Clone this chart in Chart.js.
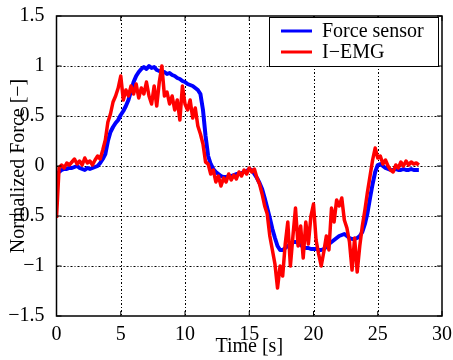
<!DOCTYPE html>
<html>
<head>
<meta charset="utf-8">
<script src="https://cdn.jsdelivr.net/npm/chart.js@4/dist/chart.umd.min.js"></script>
<style>
  html, body { margin: 0; padding: 0; background: #fff; }
  #wrap { width: 453px; height: 360px; }
</style>
</head>
<body>
<div id="wrap"><canvas id="chart" width="453" height="360"></canvas></div>
<script>
// samples every 0.2 s
const forceSensor = [
  -0.08,-0.06,-0.04,-0.03,-0.03,-0.02,-0.02,-0.01,0.00,-0.02,
  -0.03,-0.04,-0.02,-0.03,-0.02,-0.01,0.00,0.03,0.07,0.12,
  0.25,0.34,0.39,0.43,0.46,0.51,0.55,0.60,0.66,0.75,
  0.84,0.90,0.94,0.97,0.99,0.97,1.00,0.98,0.99,0.96,
  0.95,0.93,0.94,0.92,0.93,0.91,0.90,0.88,0.87,0.85,
  0.84,0.82,0.81,0.80,0.78,0.76,0.72,0.56,0.30,0.10,
  0.02,-0.03,-0.06,-0.08,-0.10,-0.11,-0.11,-0.10,-0.10,-0.09,
  -0.08,-0.08,-0.07,-0.06,-0.05,-0.03,-0.04,-0.08,-0.12,-0.17,
  -0.23,-0.32,-0.42,-0.52,-0.63,-0.72,-0.80,-0.84,-0.84,-0.82,
  -0.80,-0.78,-0.76,-0.76,-0.77,-0.79,-0.81,-0.82,-0.82,-0.83,
  -0.83,-0.83,-0.84,-0.84,-0.83,-0.81,-0.78,-0.76,-0.74,-0.72,
  -0.70,-0.69,-0.68,-0.70,-0.72,-0.73,-0.73,-0.72,-0.70,-0.66,
  -0.58,-0.47,-0.32,-0.18,-0.06,0.01,0.02,0.00,-0.02,-0.03,
  -0.04,-0.04,-0.03,-0.04,-0.04,-0.03,-0.04,-0.04,-0.03,-0.04,
  -0.04,-0.04
];
const iEmg = [
  -0.52,-0.02,0.01,-0.02,0.03,0.01,0.04,0.07,0.02,0.05,
  0.01,0.08,0.03,0.05,0.01,0.06,0.10,0.07,0.16,0.26,
  0.44,0.52,0.64,0.70,0.78,0.90,0.66,0.76,0.70,0.80,
  0.72,0.82,0.68,0.78,0.72,0.84,0.70,0.62,0.80,0.60,
  0.84,1.00,0.70,0.74,0.62,0.70,0.56,0.66,0.46,0.80,
  0.62,0.56,0.66,0.48,0.58,0.40,0.32,0.22,0.04,0.02,
  -0.08,-0.04,-0.16,-0.10,-0.20,-0.12,-0.16,-0.08,-0.14,-0.09,
  -0.13,-0.06,-0.10,-0.04,-0.08,-0.02,-0.06,-0.03,-0.12,-0.18,
  -0.28,-0.40,-0.48,-0.70,-0.84,-0.98,-1.22,-1.00,-1.10,-0.78,
  -0.56,-1.00,-0.70,-0.42,-0.80,-0.60,-0.92,-0.56,-0.78,-0.50,
  -0.38,-0.74,-0.88,-1.00,-0.86,-0.70,-0.84,-0.42,-0.56,-0.34,
  -0.40,-0.32,-0.54,-0.62,-0.76,-1.04,-0.72,-1.06,-0.80,-0.60,
  -0.44,-0.26,-0.10,0.06,0.18,0.08,0.10,0.02,0.06,0.00,
  -0.04,-0.06,0.01,-0.02,0.04,0.00,0.05,0.01,0.04,0.02,
  0.03,0.01
];
const time = forceSensor.map((_, i) => +(i * 0.2).toFixed(1));
const xTicks = [0, 5, 10, 15, 20, 25, 30];
const yTicks = [-1.5, -1, -0.5, 0, 0.5, 1, 1.5];
const seriesNames = ['Force sensor', 'I\u2212EMG'];
const seriesColors = ['rgb(0,0,255)', 'rgb(255,0,0)'];

const serif = '"Liberation Serif", "DejaVu Serif", serif';
const fmt = v => String(v).replace('-', '\u2212');

const frame = {
    id: 'frame',
    beforeDatasetsDraw(chart) {
        const { ctx, chartArea: a, scales: { x, y } } = chart;
        ctx.save();
        ctx.strokeStyle = '#000';
        ctx.lineWidth = 1;
        ctx.setLineDash([2, 2, 1, 2]);
        xTicks.slice(1, -1).forEach(v => {
            const p = Math.round(x.getPixelForValue(v)) + 0.5;
            ctx.beginPath(); ctx.moveTo(p, a.top); ctx.lineTo(p, a.bottom); ctx.stroke();
        });
        yTicks.slice(1, -1).forEach(v => {
            const p = Math.round(y.getPixelForValue(v)) + 0.5;
            ctx.beginPath(); ctx.moveTo(a.left, p); ctx.lineTo(a.right, p); ctx.stroke();
        });
        ctx.restore();
    },
    afterDatasetsDraw(chart) {
        const { ctx, chartArea: a, scales: { x, y } } = chart;
        ctx.save();
        ctx.setLineDash([]);
        ctx.strokeStyle = '#000';
        ctx.lineWidth = 1.5;
        ctx.strokeRect(a.left, a.top, a.right - a.left, a.bottom - a.top);
        // inward ticks
        ctx.lineWidth = 1;
        xTicks.forEach(v => {
            const p = x.getPixelForValue(v);
            ctx.beginPath();
            ctx.moveTo(p, a.bottom); ctx.lineTo(p, a.bottom - 5);
            ctx.moveTo(p, a.top); ctx.lineTo(p, a.top + 5);
            ctx.stroke();
        });
        yTicks.forEach(v => {
            const p = y.getPixelForValue(v);
            ctx.beginPath();
            ctx.moveTo(a.left, p); ctx.lineTo(a.left + 5, p);
            ctx.moveTo(a.right, p); ctx.lineTo(a.right - 5, p);
            ctx.stroke();
        });
        // legend box
        const bx = 269, by = 17, bw = 169, bh = 49;
        ctx.fillStyle = '#fff';
        ctx.fillRect(bx, by, bw, bh);
        ctx.lineWidth = 1;
        ctx.strokeRect(bx + 0.5, by + 0.5, bw, bh);
        ctx.font = '20px ' + serif;
        ctx.textBaseline = 'middle';
        seriesNames.forEach((name, i) => {
            const ly = 31 + i * 21;
            ctx.strokeStyle = seriesColors[i];
            ctx.lineWidth = 3;
            ctx.beginPath(); ctx.moveTo(281, ly); ctx.lineTo(312, ly); ctx.stroke();
            ctx.fillStyle = '#000';
            ctx.fillText(name, 322, ly + 1);
        });
        ctx.restore();
    }
};

new Chart(document.getElementById('chart'), {
    type: 'line',
    data: {
        datasets: [
            {
                label: seriesNames[0],
                data: time.map((t, i) => ({ x: t, y: forceSensor[i] })),
                borderColor: seriesColors[0],
                borderWidth: 4,
                order: 1
            },
            {
                label: seriesNames[1],
                data: time.map((t, i) => ({ x: t, y: iEmg[i] })),
                borderColor: seriesColors[1],
                borderWidth: 3.5,
                order: 0
            }
        ]
    },
    options: {
        responsive: false,
        animation: false,
        events: [],
        layout: { padding: { left: 0, right: 11, top: 13.5, bottom: 0 } },
        elements: { point: { radius: 0 }, line: { tension: 0, borderJoinStyle: 'round' } },
        plugins: { legend: { display: false }, tooltip: { enabled: false } },
        scales: {
            x: {
                type: 'linear', min: 0, max: 30,
                afterBuildTicks: s => { s.ticks = xTicks.map(v => ({ value: v })); },
                afterFit: s => { s.height = 44; },
                grid: { display: false },
                border: { display: false },
                ticks: { color: '#000', padding: -1, maxRotation: 0, font: { family: serif, size: 20 }, callback: fmt },
                title: { display: true, text: 'Time [s]', color: '#000', font: { family: serif, size: 20 }, padding: { top: 0, bottom: 1 } }
            },
            y: {
                type: 'linear', min: -1.5, max: 1.5,
                afterBuildTicks: s => { s.ticks = yTicks.map(v => ({ value: v })); },
                afterFit: s => { s.width = 56.5; },
                grid: { display: false },
                border: { display: false },
                ticks: { color: '#000', padding: 4, font: { family: serif, size: 20 }, callback: fmt },
                title: { display: true, text: 'Normalized Force [\u2212]', color: '#000', font: { family: serif, size: 20 }, padding: { top: 7, bottom: 0 } }
            }
        }
    },
    plugins: [frame]
});
</script>
</body>
</html>
